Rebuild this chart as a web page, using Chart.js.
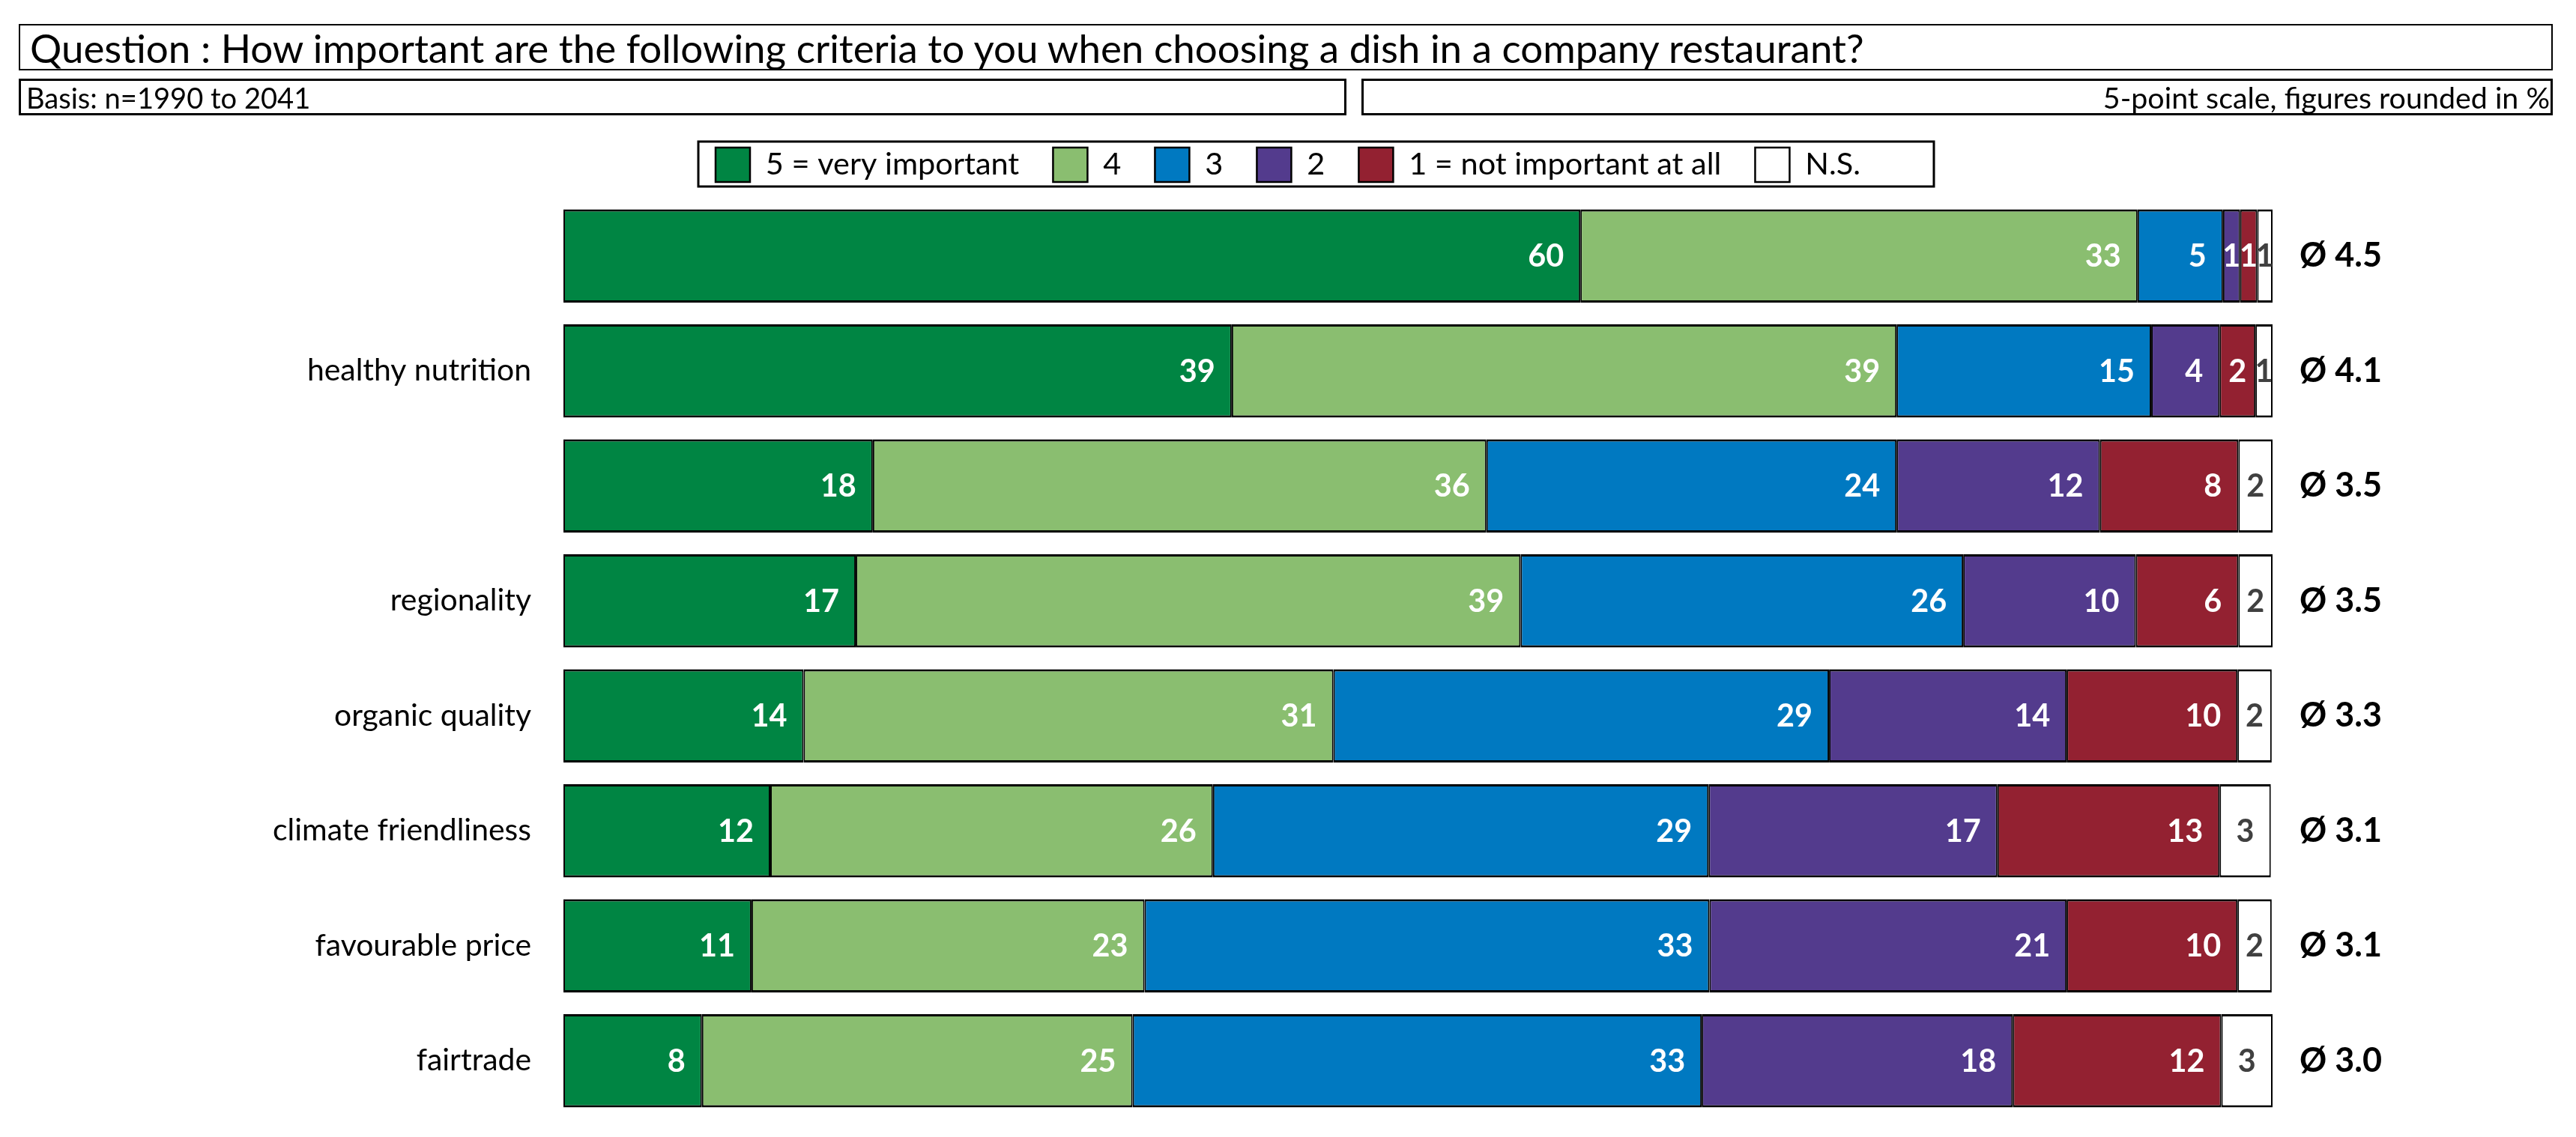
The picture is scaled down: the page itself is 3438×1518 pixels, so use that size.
<!DOCTYPE html>
<html><head><meta charset="utf-8">
<script src="https://cdn.jsdelivr.net/npm/chart.js@4.4.1/dist/chart.umd.min.js"></script>
<style>
html,body{margin:0;padding:0;background:#fff;}
#wrap{position:relative;width:3438px;height:1518px;overflow:hidden;background:#fff;}
#c{position:absolute;left:0;top:0;}
.box{position:absolute;box-sizing:border-box;border:3px solid #000;display:flex;align-items:center;white-space:nowrap;overflow:hidden;font-family:Lato,sans-serif;color:#000;}
</style></head><body>
<div id="wrap">
<canvas id="c" width="3438" height="1518"></canvas>
<div class="box" id="title" style="left:25px;top:32px;width:3382px;height:62px;border-width:2px;padding-left:13px;"></div>
<div class="box" id="basis" style="left:25px;top:105px;width:1772px;height:49px;padding-left:7px;"></div>
<div class="box" id="note" style="left:1817px;top:105px;width:1590px;height:49px;justify-content:flex-end;padding-right:1px;"></div>
</div>
<script>
// ---- texts ----
const titleText = "Question : How important are the following criteria to you when choosing a dish in a company restaurant?";
const basisText = "Basis: n=1990 to 2041";
const noteText = "5-point scale, figures rounded in %";

// ---- data ----
const categories = ["", "healthy nutrition", "", "regionality", "organic quality", "climate friendliness", "favourable price", "fairtrade"];
const seriesNames = ["5 = very important", "4", "3", "2", "1 = not important at all", "N.S."];
const veryImportant5 = [59.5, 39.1, 18.1, 17.1, 14.05, 12.1, 11.0, 8.1];
const important4     = [32.6, 38.9, 35.9, 38.9, 31.0, 25.9, 23.0, 25.2];
const important3     = [5.0, 14.9, 24.0, 25.9, 29.0, 29.0, 33.05, 33.3];
const important2     = [1.0, 4.0, 11.9, 10.1, 13.9, 16.9, 20.9, 18.2];
const notImportant1  = [1.0, 2.1, 8.1, 6.0, 10.0, 13.0, 10.0, 12.2];
const notStated      = [0.9, 1.0, 2.0, 2.0, 2.0, 3.0, 2.0, 3.0];
const averages = [4.5, 4.1, 3.5, 3.5, 3.3, 3.1, 3.1, 3.0];
const avgLabels = averages.map(a => "Ø " + a.toFixed(1));

// ---- styles ----
const colors = ["#008543", "#8ABE70", "#0079C1", "#533B8D", "#932131", "#FFFFFF"];
const FAMILY = "Lato";

const mctx = document.createElement('canvas').getContext('2d');
function fitSize(text, weight, target) {
  mctx.font = weight + " 100px " + FAMILY;
  return Math.round(100 * target / mctx.measureText(text).width * 10) / 10;
}
function textW(text, weight, size) {
  mctx.font = weight + " " + size + "px " + FAMILY;
  return mctx.measureText(text).width;
}

const titleSize = fitSize(titleText, "normal", 2453);
const basisSize = fitSize(basisText, "normal", 379);
const noteSize = fitSize(noteText, "normal", 596);
const catSize = fitSize("healthy nutrition", "normal", 299);
const legendSize = fitSize("1 = not important at all", "normal", 417);
const valSize = fitSize("33", "bold", 48);
const avgSize = fitSize("Ø 4.5", "bold", 110);

const tEl = document.getElementById('title'); tEl.textContent = titleText; tEl.style.fontSize = titleSize + "px";
const bEl = document.getElementById('basis'); bEl.textContent = basisText; bEl.style.fontSize = basisSize + "px";
const nEl = document.getElementById('note'); nEl.textContent = noteText; nEl.style.fontSize = noteSize + "px";

// legend geometry
const boxSide = 46;
let itemsW = 0;
seriesNames.forEach(n => { itemsW += boxSide + legendSize / 2 + textW(n, "normal", legendSize); });
const legendPad = Math.max(10, (1528 - itemsW) / (seriesNames.length - 1));
const legendItemsTop = 197;

const seriesData = [veryImportant5, important4, important3, important2, notImportant1, notStated];
const datasets = seriesNames.map((name, i) => ({
  label: name,
  data: seriesData[i],
  backgroundColor: colors[i],
  borderColor: "#000000",
  borderWidth: {top: 3, bottom: 3, left: 2, right: 2},
  borderSkipped: false,
  categoryPercentage: 1.0,
  barPercentage: 0.81
}));

const labelPad = 22;
const valueLabels = {
  id: 'valueLabels',
  afterDatasetsDraw(chart) {
    const ctx = chart.ctx;
    ctx.save();
    ctx.font = "bold " + valSize + "px " + FAMILY;
    ctx.textBaseline = 'middle';
    chart.data.datasets.forEach((ds, di) => {
      const meta = chart.getDatasetMeta(di);
      meta.data.forEach((bar, j) => {
        const txt = String(Math.round(ds.data[j]));
        const left = Math.min(bar.base, bar.x), right = Math.max(bar.base, bar.x);
        const w = ctx.measureText(txt).width;
        const isNS = di === chart.data.datasets.length - 1;
        ctx.fillStyle = isNS ? '#404040' : '#FFFFFF';
        if (isNS || right - left < w + 2 * labelPad) {
          ctx.textAlign = 'center';
          ctx.fillText(txt, (left + right) / 2, bar.y + 1);
        } else {
          ctx.textAlign = 'right';
          ctx.fillText(txt, right - labelPad, bar.y + 1);
        }
      });
    });
    ctx.restore();
  }
};

const legendFrame = {
  id: 'legendFrame',
  afterDraw(chart) {
    const hb = chart.legend && chart.legend.legendHitBoxes;
    if (!hb || !hb.length) return;
    const first = hb[0], last = hb[hb.length - 1];
    const ctx = chart.ctx;
    ctx.save();
    ctx.strokeStyle = '#000';
    ctx.lineWidth = 3;
    const x0 = first.left - 23, x1 = last.left + last.width + 98;
    const y0 = first.top - 8, y1 = first.top + 52;
    ctx.strokeRect(x0, y0, x1 - x0, y1 - y0);
    ctx.restore();
  }
};

function noEdgePadding(s) { s.paddingTop = 0; s.paddingBottom = 0; }

new Chart(document.getElementById('c'), {
  type: 'bar',
  data: {labels: categories, datasets},
  plugins: [valueLabels, legendFrame],
  options: {
    indexAxis: 'y',
    responsive: false,
    devicePixelRatio: 1,
    animation: false,
    layout: {padding: {top: legendItemsTop - legendPad, bottom: 25, left: 0, right: 0}},
    plugins: {
      tooltip: {enabled: false},
      legend: {
        display: true,
        position: 'top',
        align: 'center',
        labels: {
          boxWidth: boxSide,
          boxHeight: boxSide,
          padding: legendPad,
          color: '#000',
          font: {family: FAMILY, size: legendSize}
        }
      }
    },
    scales: {
      x: {
        stacked: true, min: 0, max: 100, position: 'top',
        grid: {display: false, drawTicks: false},
        border: {display: false},
        ticks: {display: false},
        afterFit: s => { s.height = 12; s.paddingLeft = 0; s.paddingRight = 0; }
      },
      y: {
        stacked: true,
        grid: {display: false, drawTicks: false},
        border: {display: false},
        ticks: {color: '#000', padding: 43, font: {family: FAMILY, size: catSize}},
        afterFit: s => { s.width = 752; noEdgePadding(s); }
      },
      y2: {
        type: 'category',
        labels: avgLabels,
        position: 'right',
        offset: true,
        grid: {display: false, drawTicks: false},
        border: {display: false},
        ticks: {color: '#000', padding: 36, font: {family: FAMILY, size: avgSize, weight: 'bold'}},
        afterFit: s => { s.width = 405; noEdgePadding(s); }
      }
    }
  }
});
</script>
</body></html>
